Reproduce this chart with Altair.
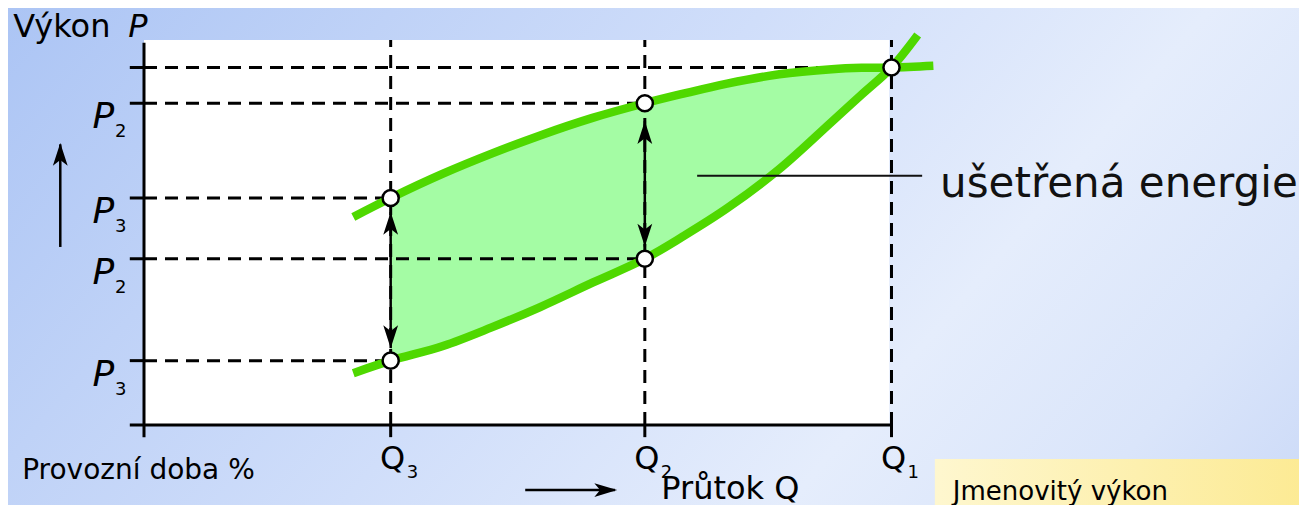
import altair as alt
import pandas as pd

# ---------------- data ----------------
# flow Q in % of nominal (Q1 = 100), power P in % (nominal = 100)
upper_q = [28, 33, 40, 46.5, 53, 60, 67, 72, 78, 85, 92, 96, 100, 105.6]
upper_p = [58.2, 63.5, 70.3, 75.9, 81.0, 85.9, 90, 92.6, 95.5, 98.1, 99.5, 99.9, 100, 100.5]
lower_q = [28, 33, 40, 46.5, 53, 60, 67, 72, 78, 85, 92, 96, 100, 103.5]
lower_p = [14.5, 18, 22.1, 27.3, 33.0, 39.8, 46.5, 52.6, 60.6, 71.6, 84.8, 92.4, 100, 109.1]

q_ticks = [33, 67, 100]
q_tick_subs = ["3", "2", "1"]
p_levels = [100, 90, 63.5, 46.5, 18]
p_level_q_end = [100, 67, 33, 67, 33]
p_label_levels = [90, 63.5, 46.5, 18]
p_label_subs = ["2", "3", "2", "3"]

circle_q = [33, 33, 67, 67, 100]
circle_p = [63.5, 18, 90, 46.5, 100]

saving_arrow_q = [33, 67]
saving_arrow_top = [59.6, 85.0]
saving_arrow_bottom = [21.5, 49.9]

# ---------------- scales ----------------
XD = [-18.194, 154.515]
YD = [-22.378, 116.643]
xs = alt.Scale(domain=XD, nice=False, zero=False)
ys = alt.Scale(domain=YD, nice=False, zero=False)

def X(f="q"):
    return alt.X(f, type="quantitative", scale=xs, axis=None)

def Y(f="p"):
    return alt.Y(f, type="quantitative", scale=ys, axis=None)

FONT = "DejaVu Sans"
GREEN = "#4fd800"
FILL = "#a4fca4"

def rules(df, **kw):
    return alt.Chart(df).mark_rule(**kw).encode(
        x=X("q"), y=Y("p"), x2="q2", y2="p2")

def rects(df, **kw):
    return alt.Chart(df).mark_rect(**kw).encode(
        x=X("q"), y=Y("p"), x2="q2", y2="p2")

layers = []

# background gradient
bg = pd.DataFrame({"q": [-25], "q2": [160], "p": [-30], "p2": [125]})
layers.append(rects(bg, fill={
    "gradient": "linear", "x1": 0, "y1": 0, "x2": 1.2, "y2": 0.41,
    "stops": [
        {"offset": 0.0, "color": "#a8c2f4"},
        {"offset": 0.25, "color": "#bfd2f7"},
        {"offset": 0.45, "color": "#d0defa"},
        {"offset": 0.69, "color": "#e5edfc"},
        {"offset": 0.85, "color": "#dae5fa"},
        {"offset": 1.0, "color": "#c8d7f7"},
    ]}, strokeWidth=0))

# white plot panel
layers.append(rects(pd.DataFrame({"q": [0], "q2": [99.7], "p": [0], "p2": [107.7]}),
                    fill="white", strokeWidth=0))

# yellow box
layers.append(rects(pd.DataFrame({"q": [105.8], "q2": [160], "p": [-9.5], "p2": [-30]}),
                    fill={"gradient": "linear", "x1": 0, "y1": 0, "x2": 1, "y2": 0,
                          "stops": [{"offset": 0, "color": "#fef7cf"},
                                    {"offset": 1, "color": "#fce98e"}]},
                    strokeWidth=0))

# savings area between the two curves (Q3 .. Q1)
area_df = pd.DataFrame({"q": upper_q[1:13], "up": upper_p[1:13], "lo": lower_p[1:13]})
layers.append(alt.Chart(area_df).mark_area(color=FILL, interpolate="catmull-rom", opacity=1).encode(
    x=X("q"), y=Y("up"), y2="lo"))

# dashed guide lines
hdash = pd.DataFrame({"q": [0] * len(p_levels), "q2": p_level_q_end,
                      "p": p_levels, "p2": p_levels})
vdash = pd.DataFrame({"q": q_ticks, "q2": q_ticks, "p": [0] * 3, "p2": [107.7] * 3})
layers.append(rules(hdash, color="black", strokeWidth=3, strokeDash=[13, 8]))
layers.append(rules(vdash, color="black", strokeWidth=3, strokeDash=[13, 8]))

# axes
axes = pd.DataFrame({"q": [0, -1.9], "q2": [0, 100], "p": [-3.4, 0], "p2": [106.9, 0]})
layers.append(rules(axes, color="black", strokeWidth=3))
lticks = pd.DataFrame({"q": [-1.9] * len(p_levels), "q2": [0] * len(p_levels),
                       "p": p_levels, "p2": p_levels})
layers.append(rules(lticks, color="black", strokeWidth=3))
dticks = pd.DataFrame({"q": q_ticks, "q2": q_ticks, "p": [0] * 3, "p2": [-3.4] * 3})
layers.append(rules(dticks, color="black", strokeWidth=3))

# curves
up_df = pd.DataFrame({"q": upper_q, "p": upper_p})
lo_df = pd.DataFrame({"q": lower_q, "p": lower_p})
for d in (up_df, lo_df):
    layers.append(alt.Chart(d).mark_line(color=GREEN, strokeWidth=8.5, interpolate="catmull-rom",
                                         strokeCap="butt").encode(x=X("q"), y=Y("p"), order="q:Q"))

# leader line
layers.append(rules(pd.DataFrame({"q": [74], "q2": [104.1], "p": [69.7], "p2": [69.7]}),
                    color="#111111", strokeWidth=2))

# double arrows
shafts = pd.DataFrame({"q": saving_arrow_q, "q2": saving_arrow_q,
                       "p": saving_arrow_top, "p2": saving_arrow_bottom})
layers.append(rules(shafts, color="black", strokeWidth=2.5))
# axis direction arrows
layers.append(rules(pd.DataFrame({"q": [-11.2, 51.0], "q2": [-11.2, 63.0],
                                  "p": [49.8, -18.2], "p2": [78.5, -18.2]}),
                    color="black", strokeWidth=2.5))

UP = "M0,0L0.65,2L0,1.5L-0.65,2Z"
DOWN = "M0,0L0.65,-2L0,-1.5L-0.65,-2Z"
RIGHT = "M0,0L-2,0.6L-1.5,0L-2,-0.6Z"
heads_up = pd.DataFrame({"q": saving_arrow_q + [-11.2], "p": saving_arrow_top + [78.9]})
heads_down = pd.DataFrame({"q": saving_arrow_q, "p": saving_arrow_bottom})
heads_right = pd.DataFrame({"q": [63.3], "p": [-18.2]})
for d, s in ((heads_up, UP), (heads_down, DOWN), (heads_right, RIGHT)):
    layers.append(alt.Chart(d).mark_point(shape=s, size=520, filled=True, fill="black",
                                          opacity=1, strokeWidth=0).encode(x=X("q"), y=Y("p")))

# circles
layers.append(alt.Chart(pd.DataFrame({"q": circle_q, "p": circle_p})).mark_point(
    shape="circle", size=260, filled=False, fill="white", fillOpacity=1, stroke="black",
    strokeWidth=2.5, opacity=1).encode(x=X("q"), y=Y("p")))

# ---------------- texts ----------------
def text_layer(df, **kw):
    base = dict(font=FONT, color="black", baseline="alphabetic")
    base.update(kw)
    return alt.Chart(df).mark_text(**base).encode(x=X("q"), y=Y("p"), text="t:N")

# P labels on the power axis
pl = pd.DataFrame({"q": [-4.0] * 4, "p": p_label_levels, "t": ["P"] * 4})
layers.append(text_layer(pl, fontSize=36, fontStyle="italic", align="right", dy=25))
ps = pd.DataFrame({"q": [-4.0] * 4, "p": p_label_levels, "t": p_label_subs})
layers.append(text_layer(ps, fontSize=18, align="left", dx=1, dy=34))

# Q labels
ql = pd.DataFrame({"q": q_ticks, "p": [-12.3] * 3, "t": ["Q"] * 3})
layers.append(text_layer(ql, fontSize=32, align="center", dx=2))
qs = pd.DataFrame({"q": q_ticks, "p": [-12.3] * 3, "t": q_tick_subs})
layers.append(text_layer(qs, fontSize=18, align="left", dx=16, dy=9))

# titles and annotations
layers.append(text_layer(pd.DataFrame({"q": [-17.5], "p": [108.4], "t": ["Výkon"]}),
                         fontSize=32, align="left"))
layers.append(text_layer(pd.DataFrame({"q": [-2.1], "p": [108.4], "t": ["P"]}),
                         fontSize=32, align="left", fontStyle="italic"))
layers.append(text_layer(pd.DataFrame({"q": [-16.3], "p": [-15.1], "t": ["Provozní doba %"]}),
                         fontSize=28, align="left"))
layers.append(text_layer(pd.DataFrame({"q": [69.2], "p": [-20.6], "t": ["Průtok Q"]}),
                         fontSize=32, align="left"))
layers.append(text_layer(pd.DataFrame({"q": [106.5], "p": [63.9], "t": ["ušetřená energie"]}),
                         fontSize=42, align="left", color="#111111"))
layers.append(text_layer(pd.DataFrame({"q": [108.2], "p": [-20.9], "t": ["Jmenovitý výkon"]}),
                         fontSize=26, align="left"))

chart = alt.layer(*layers).properties(
    width=1291, height=497, padding=0, autosize="none"
).configure_view(stroke=None)

chart.save("out.html", embed_options={"renderer": "svg", "actions": False})
